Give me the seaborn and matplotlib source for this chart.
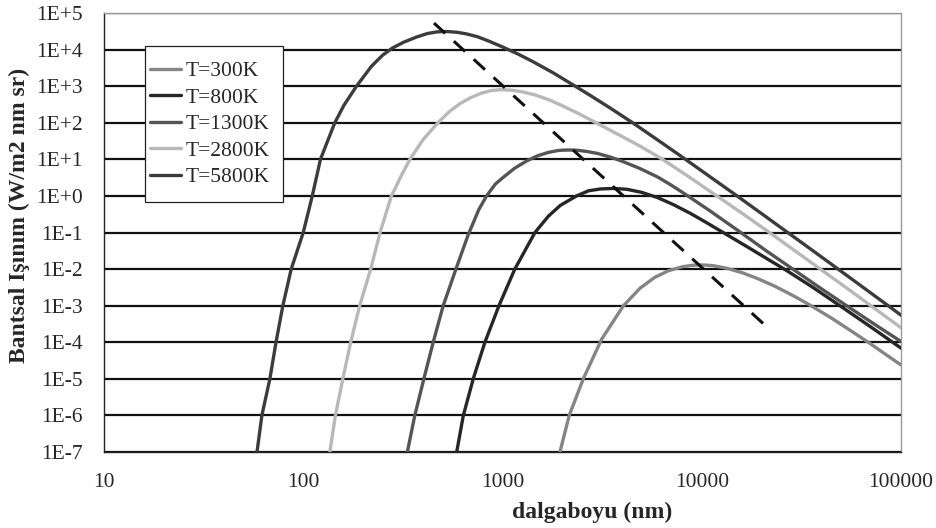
import numpy as np
import pandas as pd
import matplotlib
matplotlib.use("Agg")
import matplotlib.pyplot as plt
from matplotlib.lines import Line2D
from matplotlib.patches import Rectangle
import seaborn as sns

# ---- data (wavelength nm, spectral radiance W/m2 nm sr)
t300_x = [1942, 2162, 2543, 3142, 4037, 4900, 5800, 6800, 8000, 9000, 9800, 10600, 11500,
          13500, 16000, 19000, 23000, 27000, 31000, 36000, 45000, 55000, 70000, 85000, 100000]
t300_y = [1e-7, 1e-6, 1e-5, 1.2e-4, 9.8e-4, 3.0e-3, 5.9e-3, 9.0e-3, 1.16e-2, 1.27e-2, 1.3e-2,
          1.28e-2, 1.23e-2, 1.04e-2, 7.9e-3, 5.55e-3, 3.5e-3, 2.25e-3, 1.5e-3, 9.4e-4, 4.5e-4,
          2.2e-4, 9.2e-5, 4.4e-5, 2.4e-5]

t800_x = [589, 636, 713, 816, 960, 1153, 1455, 1700, 1950, 2355, 2700, 3100, 3600, 4200,
          5000, 6000, 7200, 8800, 10500, 12800, 17000, 26600, 36000, 49300, 70000, 100000]
t800_y = [1e-7, 1e-6, 1e-5, 1e-4, 1e-3, 1e-2, 0.1, 0.28, 0.55, 1.0, 1.38, 1.55, 1.6, 1.52,
          1.25, 0.9, 0.58, 0.33, 0.19, 0.1, 0.04, 9.2e-3, 3.2e-3, 1e-3, 2.7e-4, 6.9e-5]

t1300_x = [333, 363, 403, 449, 504, 589, 672, 760, 832, 920, 1000, 1150, 1320, 1500, 1700,
           1900, 2000, 2200, 2400, 2650, 3000, 3500, 4000, 4900, 6000, 7000, 8400, 11000,
           15500, 21000, 28800, 38000, 53300, 75000, 100000]
t1300_y = [1e-7, 1e-6, 1e-5, 1e-4, 1e-3, 1.15e-2, 0.085, 0.42, 1.0, 2.1, 3.1, 5.7, 9, 12.5,
           15.5, 17.4, 17.8, 18, 17.6, 16.4, 14.5, 11.4, 8.8, 5.6, 3.3, 2.0, 1.05, 0.39, 0.105,
           0.032, 9.8e-3, 3.45e-3, 1.0e-3, 2.9e-4, 1.05e-4]

t2800_x = [136, 145, 158, 173, 192, 218, 243, 277, 310, 343, 400, 474, 540, 610, 690, 780,
           880, 980, 1100, 1250, 1450, 1700, 2000, 2400, 2850, 3500, 4200, 4900, 6300, 8500,
           11900, 16000, 22000, 30000, 40000, 55000, 72000, 100000]
t2800_y = [1e-7, 1e-6, 1e-5, 1e-4, 1e-3, 1e-2, 0.1, 1, 3.5, 10, 35, 100, 200, 330, 480, 640,
           760, 800, 780, 705, 580, 430, 290, 180, 110, 61, 36, 23, 10.3, 3.5, 1.0, 0.33,
           0.098, 0.029, 9.4e-3, 2.7e-3, 9.2e-4, 2.5e-4]

t5800_x = [58.6, 62, 68, 73, 79, 87, 100, 111, 122, 132, 144, 160, 185, 220, 250, 280, 320,
           370, 420, 470, 525, 590, 660, 750, 860, 1000, 1200, 1430, 1800, 2250, 2800, 3500,
           4500, 6000, 7900, 10500, 15000, 20000, 26600, 35000, 47400, 65000, 83000, 100000]
t5800_y = [1e-7, 1e-6, 1e-5, 1e-4, 1e-3, 1e-2, 0.1, 1, 10, 30, 100, 300, 1000, 3500, 7000,
           1.1e4, 1.6e4, 2.2e4, 2.75e4, 3.05e4, 3.12e4, 2.98e4, 2.68e4, 2.24e4, 1.68e4,
           1.18e4, 7.5e3, 4.6e3, 2.3e3, 1.1e3, 530, 245, 100, 34, 12, 4.0, 1.01, 0.326,
           0.106, 0.036, 0.0108, 3.08e-3, 1.16e-3, 5.5e-4]

wien_x = [453, 22000]
wien_y = [5.3e4, 2.2e-4]

series_names = ["T=300K", "T=800K", "T=1300K", "T=2800K", "T=5800K"]
series_colors = ["#858585", "#262626", "#555555", "#b8b8b8", "#3c3c3c"]

y_ticks = [1e5, 1e4, 1e3, 1e2, 1e1, 1e0, 1e-1, 1e-2, 1e-3, 1e-4, 1e-5, 1e-6, 1e-7]
y_tick_labels = ["1E+5", "1E+4", "1E+3", "1E+2", "1E+1", "1E+0", "1E-1", "1E-2",
                 "1E-3", "1E-4", "1E-5", "1E-6", "1E-7"]
x_ticks = [10, 100, 1000, 10000, 100000]
x_tick_labels = ["10", "100", "1000", "10000", "100000"]

# ---- long table
xs = [t300_x, t800_x, t1300_x, t2800_x, t5800_x]
ys = [t300_y, t800_y, t1300_y, t2800_y, t5800_y]
frames = []
for name, x, y in zip(series_names, xs, ys):
    frames.append(pd.DataFrame({"wl": x, "val": y, "T": name}))
df = pd.concat(frames, ignore_index=True)

sns.set_style("white")
plt.rcParams['font.family'] = ['Liberation Serif', 'DejaVu Serif']

W, H = 937, 528
fig = plt.figure(figsize=(W / 100, H / 100), dpi=100)
ax = fig.add_axes([104 / W, 1 - 452 / H, 797 / W, 439 / H])

ax.set_xscale("log")
ax.set_yscale("log")
ax.set_xlim(10, 100000)
ax.set_ylim(1e-7, 1e5)

# horizontal grid lines
for yt in y_ticks:
    ax.axhline(yt, color="#111111", lw=1.6, zorder=1)

sns.lineplot(data=df, x="wl", y="val", hue="T", hue_order=series_names,
             palette=dict(zip(series_names, series_colors)), sort=False,
             estimator=None, linewidth=2.4, ax=ax, legend=False, zorder=3)

sns.lineplot(x=wien_x, y=wien_y, ax=ax, color="#111111", linewidth=2.2,
             zorder=4, estimator=None, sort=False)
ax.lines[-1].set_dashes([5, 3.8])

ax.set_yticks(y_ticks)
ax.set_yticklabels(y_tick_labels)
ax.set_xticks(x_ticks)
ax.set_xticklabels(x_tick_labels)
ax.minorticks_off()
ax.tick_params(axis="both", which="major", direction="out", length=5.5, width=1,
               color="#222222", labelsize=15.5)
ax.tick_params(axis="y", pad=9.5)
ax.tick_params(axis="x", pad=9.5)

for s in ["left", "bottom"]:
    ax.spines[s].set_color("#222222")
    ax.spines[s].set_linewidth(1.0)
for s in ["top", "right"]:
    ax.spines[s].set_color("#999999")
    ax.spines[s].set_linewidth(1.0)
    ax.spines[s].set_linestyle((0, (1, 1)))

ax.set_xlabel("dalgaboyu (nm)", fontsize=17, fontweight="bold")
ax.xaxis.set_label_coords(0.612, -0.113)
ax.set_ylabel("Bantsal Işınım (W/m2 nm sr)", fontsize=17, fontweight="bold")
ax.yaxis.set_label_coords(-0.093, 0.54)

# legend box (frame drawn separately to match its proportions)
box = Rectangle((145 / W, 1 - 202 / H), 138 / W, 156 / H, transform=fig.transFigure,
                facecolor="white", edgecolor="#222222", linewidth=0.9, zorder=9)
ax.add_patch(box)
box.set_clip_on(False)

handles = [Line2D([0], [0], color=c, lw=2.4) for c in series_colors]
leg = ax.legend(handles, series_names, loc="upper left",
                bbox_to_anchor=(150 / W, 1 - 61 / H), bbox_transform=fig.transFigure,
                frameon=False, fontsize=15.5, handlelength=1.45, handletextpad=0.2,
                labelspacing=0.3, borderpad=0.0, borderaxespad=0)
leg.set_zorder(10)

fig.savefig("out.png", dpi=100, facecolor="white")
